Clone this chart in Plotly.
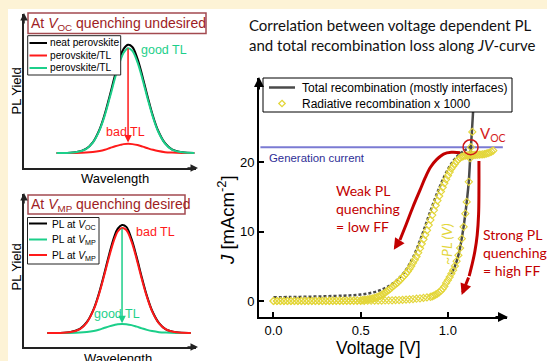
import plotly.graph_objects as go

W, H = 547, 361
def px(x): return x / W
def py(y): return 1 - y / H

# ---------------- left panels: schematic PL spectra ----------------
WL_TOP = [0.19, 0.30, 0.36, 0.40, 0.44, 0.47, 0.50, 0.53, 0.56, 0.58, 0.605, 0.63, 0.66, 0.69, 0.72, 0.75, 0.78, 0.82, 0.86, 0.92, 0.99]
PL_NEAT = [0.098, 0.102, 0.124, 0.167, 0.253, 0.352, 0.476, 0.607, 0.722, 0.775, 0.800, 0.786, 0.709, 0.590, 0.458, 0.337, 0.242, 0.161, 0.121, 0.102, 0.098]
PL_BAD_TL = [0.098, 0.098, 0.100, 0.104, 0.111, 0.119, 0.130, 0.141, 0.150, 0.155, 0.157, 0.155, 0.149, 0.139, 0.128, 0.118, 0.110, 0.103, 0.100, 0.098, 0.098]
PL_GOOD_TL = [0.098, 0.102, 0.123, 0.165, 0.248, 0.343, 0.462, 0.588, 0.699, 0.750, 0.778, 0.760, 0.686, 0.572, 0.445, 0.329, 0.237, 0.159, 0.120, 0.102, 0.098]

WL_BOT = [0.135, 0.265, 0.325, 0.365, 0.405, 0.435, 0.465, 0.495, 0.525, 0.545, 0.570, 0.595, 0.625, 0.655, 0.685, 0.715, 0.745, 0.785, 0.825, 0.885, 0.97]
PL_VOC = [0.092, 0.096, 0.118, 0.162, 0.248, 0.348, 0.472, 0.605, 0.721, 0.774, 0.797, 0.785, 0.707, 0.588, 0.455, 0.333, 0.237, 0.156, 0.115, 0.096, 0.092]
PL_VMP_BAD = [0.092, 0.096, 0.117, 0.160, 0.244, 0.341, 0.462, 0.590, 0.703, 0.755, 0.778, 0.765, 0.690, 0.574, 0.444, 0.326, 0.233, 0.154, 0.115, 0.096, 0.092]
PL_VMP_GOOD = [0.092, 0.092, 0.094, 0.098, 0.105, 0.113, 0.124, 0.135, 0.144, 0.149, 0.151, 0.149, 0.143, 0.133, 0.122, 0.112, 0.104, 0.097, 0.094, 0.092, 0.092]

# ---------------- main panel: JV data ----------------
V_TOTAL_LOWFF = [0.00, 0.10, 0.20, 0.30, 0.40, 0.45, 0.50, 0.55, 0.60, 0.65, 0.70, 0.75, 0.80, 0.85, 0.90, 0.95, 1.00, 1.05, 1.10, 1.13]
J_TOTAL_LOWFF = [0.53, 0.57, 0.62, 0.68, 0.77, 0.83, 0.93, 1.12, 1.45, 2.00, 2.85, 4.15, 6.30, 9.40, 13.0, 16.3, 19.0, 20.8, 21.8, 22.25]

V_TOTAL_HIGHFF = [1.02, 1.04, 1.065, 1.09, 1.108, 1.12, 1.127, 1.132, 1.138, 1.146, 1.155]
J_TOTAL_HIGHFF = [3.9, 5.0, 7.1, 10.7, 14.3, 17.3, 20.3, 22.2, 24.6, 28.0, 32.0]

RAD_LOWFF_V = [0.00, 0.02, 0.04, 0.06, 0.08, 0.10, 0.12, 0.14, 0.16, 0.18, 0.20, 0.22, 0.24, 0.26, 0.28, 0.30, 0.32, 0.34, 0.36, 0.38, 0.40, 0.42, 0.44, 0.46, 0.48,
               0.50, 0.51, 0.52, 0.53, 0.54, 0.55, 0.56, 0.57, 0.58, 0.59, 0.60, 0.61, 0.62, 0.63, 0.64, 0.65, 0.66, 0.67, 0.68, 0.69,
               0.70, 0.71, 0.72, 0.73, 0.74, 0.75, 0.76, 0.77, 0.78, 0.79, 0.80, 0.81, 0.82, 0.83, 0.84, 0.85, 0.86, 0.87, 0.88, 0.89,
               0.90, 0.91, 0.92, 0.93, 0.94, 0.95, 0.96, 0.97, 0.98, 0.99, 1.00, 1.01, 1.02, 1.03, 1.04, 1.05, 1.06, 1.07, 1.08, 1.09,
               1.10, 1.11, 1.12, 1.13, 1.14, 1.15, 1.16, 1.17, 1.18, 1.19, 1.20, 1.21, 1.22, 1.23, 1.24, 1.25, 1.26]
RAD_LOWFF_J = [0, 0, 0, 0, 0, 0, 0, 0, 0.01, 0.01, 0.01, 0.01, 0.02, 0.02, 0.02, 0.03, 0.03, 0.04, 0.04, 0.05, 0.05, 0.06, 0.07, 0.08, 0.09,
               0.10, 0.12, 0.15, 0.18, 0.22, 0.26, 0.31, 0.37, 0.44, 0.52, 0.62, 0.74, 0.88, 1.03, 1.20, 1.38, 1.57, 1.78, 2.00, 2.21,
               2.42, 2.63, 2.86, 3.12, 3.40, 3.66, 3.94, 4.26, 4.62, 5.04, 5.50, 5.95, 6.42, 6.98, 7.60, 8.25, 8.90, 9.55, 10.20, 10.95,
               11.70, 12.40, 13.10, 13.80, 14.50, 15.15, 15.80, 16.40, 17.00, 17.55, 18.10, 18.60, 19.10, 19.45, 19.80, 20.15, 20.45, 20.65, 20.80, 20.90,
               20.97, 21.02, 21.05, 21.07, 21.08, 21.09, 21.10, 21.11, 21.12, 21.14, 21.17, 21.21, 21.27, 21.34, 21.43, 21.55, 21.70]

RAD_HIGHFF_V = [0.00, 0.02, 0.04, 0.06, 0.08, 0.10, 0.12, 0.14, 0.16, 0.18, 0.20, 0.22, 0.24, 0.26, 0.28, 0.30, 0.32, 0.34, 0.36, 0.38, 0.40, 0.42, 0.44,
                0.46, 0.48, 0.50, 0.52, 0.54, 0.56, 0.58, 0.60, 0.62, 0.64, 0.66, 0.68, 0.70, 0.72, 0.74, 0.76, 0.78, 0.80, 0.82, 0.84, 0.86, 0.88,
                0.90, 0.91, 0.92, 0.93, 0.94, 0.95, 0.96, 0.97, 0.98, 0.99, 1.00, 1.01, 1.02, 1.03, 1.04, 1.05, 1.06, 1.07, 1.08, 1.09, 1.10,
                1.108, 1.12, 1.127, 1.132, 1.14]
RAD_HIGHFF_J = [0, 0, 0, 0, 0, 0, 0, 0, 0, 0, 0, 0, 0, 0, 0, 0.01, 0.01, 0.01, 0.01, 0.01, 0.02, 0.02, 0.02,
                0.02, 0.03, 0.03, 0.03, 0.04, 0.04, 0.05, 0.05, 0.06, 0.07, 0.08, 0.10, 0.12, 0.14, 0.17, 0.20, 0.24, 0.28, 0.33, 0.39, 0.45, 0.52,
                0.60, 0.68, 0.78, 0.92, 1.08, 1.26, 1.48, 1.75, 2.10, 2.60, 3.00, 3.45, 3.95, 4.45, 5.05, 5.75, 6.60, 7.65, 9.00, 10.70, 12.60,
                14.3, 17.2, 20.6, 22.2, 24.4]

GEN_V = [-0.075, 1.315]
GEN_J = [22.2, 22.2]
VOC_POINT_V = [1.13]
VOC_POINT_J = [22.2]

ARROW_WEAK_V = [1.07, 1.02, 0.975, 0.935, 0.90, 0.87, 0.84, 0.80, 0.76, 0.725]
ARROW_WEAK_J = [21.4, 21.45, 21.2, 20.4, 19.3, 17.8, 16.0, 13.6, 11.0, 8.8]
ARROW_WEAK_TIP = (0.69, 7.4)
ARROW_STRONG_V = [1.178, 1.178, 1.176, 1.168, 1.155, 1.138, 1.122]
ARROW_STRONG_J = [20.2, 16.0, 12.5, 9.5, 7.2, 5.2, 3.6]
ARROW_STRONG_TIP = (1.079, 0.87)

X_TICKS = [0.0, 0.5, 1.0]
X_TICKTEXT = ["0.0", "0.5", "1.0"]
Y_TICKS = [0, 10, 20]
Y_TICKTEXT = ["0", "10", "20"]

ARIAL = "Liberation Sans, Arial, sans-serif"
CAL = "Lato, Carlito, sans-serif"
BLACK = "#000000"
RED = "#ff1a1a"
GREEN = "#1ccf8a"
DARKRED = "#c20000"
GRAY = "#4a4a4a"
YELLOW = "#e3d63a"
BLUE = "#7b7bd3"
BOXRED = "#9e1c24"
DSIZE = 5.5

fig = go.Figure()

# left top
for y, c in [(PL_NEAT, BLACK), (PL_BAD_TL, RED), (PL_GOOD_TL, GREEN)]:
    fig.add_trace(go.Scatter(x=WL_TOP, y=y, xaxis="x2", yaxis="y2", mode="lines",
                             line=dict(color=c, width=2, shape="spline"), showlegend=False, hoverinfo="skip"))
# left bottom
for y, c in [(PL_VOC, BLACK), (PL_VMP_GOOD, GREEN), (PL_VMP_BAD, RED)]:
    fig.add_trace(go.Scatter(x=WL_BOT, y=y, xaxis="x3", yaxis="y3", mode="lines",
                             line=dict(color=c, width=2, shape="spline"), showlegend=False, hoverinfo="skip"))

# main
fig.add_trace(go.Scatter(x=GEN_V, y=GEN_J, mode="lines", line=dict(color=BLUE, width=2), showlegend=False))
fig.add_trace(go.Scatter(x=ARROW_WEAK_V, y=ARROW_WEAK_J, mode="lines",
                         line=dict(color=DARKRED, width=3, shape="spline"), showlegend=False))
fig.add_trace(go.Scatter(x=ARROW_STRONG_V, y=ARROW_STRONG_J, mode="lines",
                         line=dict(color=DARKRED, width=3, shape="spline"), showlegend=False))
fig.add_trace(go.Scatter(x=V_TOTAL_LOWFF, y=J_TOTAL_LOWFF, mode="lines",
                         line=dict(color=GRAY, width=2.5, dash="3px,2px", shape="spline"), showlegend=False))
fig.add_trace(go.Scatter(x=V_TOTAL_HIGHFF, y=J_TOTAL_HIGHFF, mode="lines", showlegend=False,
                         line=dict(color=GRAY, width=2.5, shape="spline")))
fig.add_trace(go.Scatter(x=RAD_LOWFF_V, y=RAD_LOWFF_J, mode="markers", showlegend=False,
                         marker=dict(symbol="diamond-open", size=DSIZE, color=YELLOW, line=dict(width=1.1, color=YELLOW))))
fig.add_trace(go.Scatter(x=RAD_HIGHFF_V, y=RAD_HIGHFF_J, mode="markers", showlegend=False,
                         marker=dict(symbol="diamond-open", size=DSIZE, color=YELLOW, line=dict(width=1.1, color=YELLOW))))
fig.add_trace(go.Scatter(x=VOC_POINT_V, y=VOC_POINT_J, mode="markers", showlegend=False,
                         marker=dict(symbol="circle-open", size=15, color="#d01818", line=dict(width=1.5, color="#d01818"))))

shapes = [
    dict(type="rect", xref="paper", yref="paper", x0=0, x1=1, y0=py(9), y1=1, fillcolor="#fdf3d6", line=dict(width=0), layer="below"),
    dict(type="rect", xref="paper", yref="paper", x0=0, x1=px(8), y0=0, y1=1, fillcolor="#fdf3d6", line=dict(width=0), layer="below"),
    dict(type="rect", xref="paper", yref="paper", x0=px(28), x1=px(206), y0=py(33.5), y1=py(13), line=dict(color="#a34a50", width=1.5)),
    dict(type="rect", xref="paper", yref="paper", x0=px(28), x1=px(185), y0=py(214), y1=py(195), line=dict(color="#a34a50", width=1.5)),
    dict(type="rect", xref="paper", yref="paper", x0=px(27.7), x1=px(120.7), y0=py(75), y1=py(35.7), line=dict(color="#222", width=1), fillcolor="white"),
    dict(type="rect", xref="paper", yref="paper", x0=px(27.5), x1=px(99), y0=py(264), y1=py(217.5), line=dict(color="#222", width=1), fillcolor="white"),
    # main legend box
    dict(type="rect", xref="paper", yref="paper", x0=px(263), x1=px(512), y0=py(112), y1=py(78), line=dict(color="#000", width=1), fillcolor="white"),
    dict(type="line", xref="paper", yref="paper", x0=px(269), x1=px(295), y0=py(87.5), y1=py(87.5), line=dict(color=GRAY, width=2.5)),
]
# legend diamond symbol (open, yellow)
cx, cy, r = 282, 103.5, 3.2
shapes.append(dict(type="path", xref="paper", yref="paper",
                   path=f"M {px(cx)} {py(cy - r)} L {px(cx + r)} {py(cy)} L {px(cx)} {py(cy + r)} L {px(cx - r)} {py(cy)} Z",
                   line=dict(color=YELLOW, width=1.3)))

annotations = []
def txt(x, y, text, size, color="#000", family=ARIAL, xanchor="left", yanchor="middle", angle=0, align="left"):
    annotations.append(dict(x=px(x), y=py(y), xref="paper", yref="paper", text=text, showarrow=False,
                            font=dict(size=size, color=color, family=family), xanchor=xanchor, yanchor=yanchor,
                            textangle=angle, align=align, borderpad=0))

# main legend text
txt(301, 87.5, "Total recombination (mostly interfaces)", 12)
txt(301, 103.5, "Radiative recombination x 1000", 12)

# left legends (manual)
for yy, c, t in [(43, BLACK, "neat perovskite"), (55.5, RED, "perovskite/TL"), (68, GREEN, "perovskite/TL")]:
    shapes.append(dict(type="line", xref="paper", yref="paper", x0=px(29.5), x1=px(47), y0=py(yy), y1=py(yy), line=dict(color=c, width=2)))
    txt(49, yy, t, 10.2)
for yy, c, t in [(225, BLACK, "PL at <i>V</i><sub>OC</sub>"), (241, GREEN, "PL at <i>V</i><sub>MP</sub>"), (256.5, RED, "PL at <i>V</i><sub>MP</sub>")]:
    shapes.append(dict(type="line", xref="paper", yref="paper", x0=px(29), x1=px(47), y0=py(yy - 1.5), y1=py(yy - 1.5), line=dict(color=c, width=2)))
    txt(51, yy, t, 10.2)

txt(30, 23.5, "At <i>V</i><sub>OC</sub> quenching undesired", 14, BOXRED)
txt(30, 204.5, "At <i>V</i><sub>MP</sub> quenching desired", 14, BOXRED)
txt(15.5, 91, "PL Yield", 13, xanchor="center", angle=-90)
txt(15.5, 267, "PL Yield", 13, xanchor="center", angle=-90)
txt(115, 179, "Wavelength", 13, xanchor="center")
txt(118, 358, "Wavelength", 13, xanchor="center")
txt(140, 50, "good TL", 12.5, GREEN)
txt(105, 131.5, "bad TL", 12.5, RED)
txt(135, 232, "bad TL", 12.5, RED)
txt(93, 314, "good TL", 12.5, GREEN)

# main texts
txt(248, 15, "Correlation between voltage dependent PL<br>and total recombination loss along <i>JV</i>-curve", 15, "#111", CAL, yanchor="top")
txt(378, 348, "Voltage [V]", 17.5, xanchor="center")
txt(226, 220, "<i>J</i> [mAcm<sup>-2</sup>]", 18.5, xanchor="center", angle=-90)
txt(268, 158, "Generation current", 11.4, "#2e2e96")
txt(479, 134, "V<sub>OC</sub>", 15, "#d41c1c", CAL)
txt(335, 181, "Weak PL<br>quenching<br>= low FF", 14, DARKRED, CAL, yanchor="top")
txt(482, 225, "Strong PL<br>quenching<br>= high FF", 14, DARKRED, CAL, yanchor="top")
txt(446, 244, "<i>~PL (V)</i>", 14, YELLOW, CAL, xanchor="center", angle=-90)

def arrow(x, y, ax, ay, color, width, size, xref="paper", yref="paper", axref="pixel", ayref="pixel"):
    annotations.append(dict(x=x, y=y, ax=ax, ay=ay, xref=xref, yref=yref, axref=axref, ayref=ayref, text="",
                            showarrow=True, arrowhead=2, arrowsize=size, arrowwidth=width, arrowcolor=color))

# axis arrowheads
arrow(px(24), py(13), 0, 12, "#222", 1.5, 1)
arrow(px(198), py(168), -12, 0, "#222", 1.5, 1)
arrow(px(24), py(193), 0, 12, "#222", 1.5, 1)
arrow(px(198), py(347), -12, 0, "#222", 1.5, 1)
arrow(px(259), py(77), 0, 14, "#000", 2, 1)
arrow(px(508), py(317), -14, 0, "#000", 2, 1)
# spectrum arrows
arrow(0.605, 0.165, 0.605, 0.785, RED, 1.5, 1, "x2", "y2", "x2", "y2")
arrow(0.570, 0.155, 0.570, 0.785, GREEN, 1.5, 1, "x3", "y3", "x3", "y3")
# JV arrows
arrow(ARROW_WEAK_TIP[0], ARROW_WEAK_TIP[1], ARROW_WEAK_V[-1], ARROW_WEAK_J[-1], DARKRED, 3, 0.75, "x", "y", "x", "y")
arrow(ARROW_STRONG_TIP[0], ARROW_STRONG_TIP[1], ARROW_STRONG_V[-1], ARROW_STRONG_J[-1], DARKRED, 3, 0.75, "x", "y", "x", "y")

small_axis = dict(showline=True, linecolor="#222", linewidth=1.5, showticklabels=False, ticks="",
                  showgrid=False, zeroline=False, range=[0, 1], fixedrange=True)

fig.update_layout(
    width=W, height=H, margin=dict(l=0, r=0, t=0, b=0),
    paper_bgcolor="white", plot_bgcolor="rgba(0,0,0,0)", showlegend=False,
    font=dict(family=ARIAL, color="#000"),
    xaxis=dict(domain=[px(259), px(507)], range=[-0.0831, 1.3389], anchor="y", showline=True, linecolor="#000", linewidth=2,
               ticks="inside", ticklen=5, tickwidth=1.5, tickcolor="#000", tickvals=X_TICKS, ticktext=X_TICKTEXT,
               tickfont=dict(size=13, family=ARIAL), showgrid=False, zeroline=False),
    yaxis=dict(domain=[py(317), py(78)], range=[-2.309, 32.18], anchor="x", showline=True, linecolor="#000", linewidth=2,
               ticks="inside", ticklen=5, tickwidth=1.5, tickcolor="#000", tickvals=Y_TICKS, ticktext=Y_TICKTEXT,
               tickfont=dict(size=13, family=ARIAL), showgrid=False, zeroline=False),
    xaxis2=dict(domain=[px(24), px(196)], anchor="y2", **small_axis),
    yaxis2=dict(domain=[py(168), py(14)], anchor="x2", **small_axis),
    xaxis3=dict(domain=[px(24), px(196)], anchor="y3", **small_axis),
    yaxis3=dict(domain=[py(347), py(194)], anchor="x3", **small_axis),
    shapes=shapes, annotations=annotations,
)

fig.write_html("out.html")
